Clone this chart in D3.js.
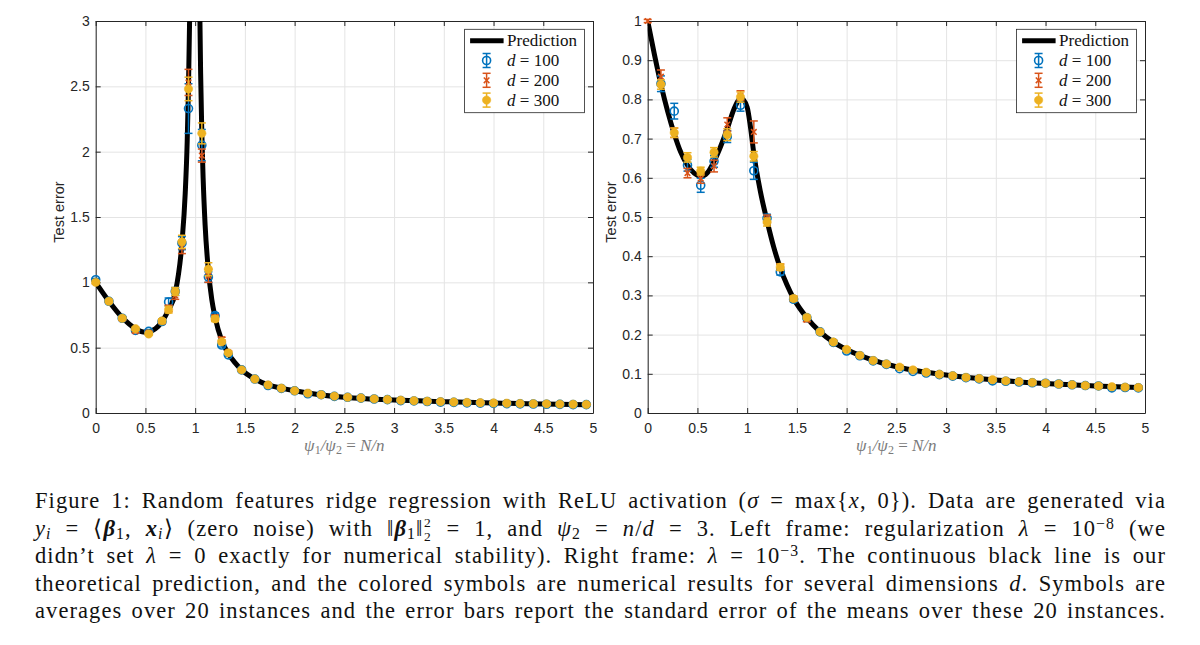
<!DOCTYPE html>
<html><head><meta charset="utf-8">
<script src="https://cdn.jsdelivr.net/npm/d3@7"></script>
<style>
html,body{margin:0;padding:0;background:#fff;}
#wrap{position:relative;width:1200px;height:645px;overflow:hidden;background:#fff;}
svg{position:absolute;left:0;top:0;}
#cap{position:absolute;left:35px;top:487px;width:1131px;font-family:"Liberation Serif","Times New Roman",serif;font-size:22.5px;line-height:27.5px;color:#111;}
#cap div{text-align:justify;text-align-last:justify;height:27.5px;}
#cap sub,#cap sup{font-size:0.7em;line-height:0;}
#cap sub{vertical-align:-0.22em;}
#cap sup{vertical-align:0.45em;}
#cap .ss{display:inline-block;position:relative;width:0.4em;height:0;}
#cap .ss span{position:absolute;left:0.05em;font-size:13.5px;line-height:1;}
#cap .ss .a{top:-19.8px;}
#cap .ss .b{top:-6px;}
</style></head>
<body>
<div id="wrap">
<svg id="chart" width="1200" height="645"></svg>
<div id="cap">
<div>Figure 1: Random features ridge regression with ReLU activation (<i>σ</i> = max{<i>x</i>, 0}). Data are generated via</div>
<div><i>y</i><sub><i>i</i></sub> = ⟨<b><i>β</i></b><sub>1</sub>, <b><i>x</i></b><sub><i>i</i></sub>⟩ (zero noise) with ‖<b><i>β</i></b><sub>1</sub>‖<span class="ss"><span class="a">2</span><span class="b">2</span></span> = 1, and <i>ψ</i><sub>2</sub> = <i>n</i>/<i>d</i> = 3. Left frame: regularization <i>λ</i> = 10<sup>−8</sup> (we</div>
<div>didn’t set <i>λ</i> = 0 exactly for numerical stability). Right frame: <i>λ</i> = 10<sup>−3</sup>. The continuous black line is our</div>
<div>theoretical prediction, and the colored symbols are numerical results for several dimensions <i>d</i>. Symbols are</div>
<div>averages over 20 instances and the error bars report the standard error of the means over these 20 instances.</div>
</div>
</div>
<script>
// ---------- tick labels ----------
const xTickVals = [0,0.5,1,1.5,2,2.5,3,3.5,4,4.5,5];
const xTickLabels = ["0","0.5","1","1.5","2","2.5","3","3.5","4","4.5","5"];
const yTickValsL = [0,0.5,1,1.5,2,2.5,3];
const yTickLabelsL = ["0","0.5","1","1.5","2","2.5","3"];
const yTickValsR = [0,0.1,0.2,0.3,0.4,0.5,0.6,0.7,0.8,0.9,1];
const yTickLabelsR = ["0","0.1","0.2","0.3","0.4","0.5","0.6","0.7","0.8","0.9","1"];
const seriesDims = ["100","200","300"];
const seriesColors = ["#0072BD","#D95319","#EDB120"];

// ---------- left frame (lambda = 1e-8) ----------
const xLeft = [0,0.133,0.267,0.4,0.533,0.667,0.733,0.8,0.867,0.933,1.067,1.133,1.2,1.267,1.333,1.467,1.6,1.733,1.867,2,2.133,2.267,2.4,2.533,2.667,2.8,2.933,3.067,3.2,3.333,3.467,3.6,3.733,3.867,4,4.133,4.267,4.4,4.533,4.667,4.8,4.933];
const left100 = [1.02,0.855,0.725,0.632,0.625,0.70,0.85,0.93,1.30,2.33,2.05,1.04,0.745,0.52,0.445,0.33,0.26,0.21,0.188,0.17,0.147,0.14,0.127,0.12,0.114,0.107,0.102,0.095,0.092,0.088,0.083,0.081,0.077,0.075,0.073,0.071,0.07,0.069,0.067,0.066,0.064,0.064];
const left200 = [1.0,0.855,0.72,0.625,0.615,0.70,0.80,0.90,1.27,2.53,1.97,1.05,0.73,0.565,0.465,0.33,0.26,0.215,0.19,0.17,0.152,0.14,0.129,0.121,0.114,0.108,0.103,0.098,0.094,0.09,0.087,0.084,0.081,0.079,0.077,0.075,0.073,0.071,0.07,0.068,0.067,0.065];
const left300 = [1.0,0.855,0.725,0.645,0.605,0.705,0.79,0.93,1.31,2.48,2.14,1.10,0.72,0.545,0.46,0.33,0.26,0.215,0.19,0.17,0.152,0.14,0.129,0.121,0.115,0.108,0.103,0.098,0.094,0.09,0.087,0.084,0.081,0.079,0.077,0.075,0.073,0.071,0.07,0.068,0.067,0.065];
const errLeft100 = [0.01,0.01,0.01,0.01,0.01,0.015,0.03,0.03,0.05,0.19,0.12,0.04,0.02,0.015,0.01,0.005,0.005,0.005,0.005,0.005,0.005,0.005,0.005,0.005,0.005,0.005,0.005,0.005,0.005,0.005,0.005,0.005,0.005,0.005,0.005,0.005,0.005,0.005,0.005,0.005,0.005,0.005];
const errLeft200 = [0.01,0.01,0.01,0.01,0.01,0.015,0.025,0.03,0.05,0.10,0.05,0.05,0.02,0.015,0.01,0.005,0.005,0.005,0.005,0.005,0.005,0.005,0.005,0.005,0.005,0.005,0.005,0.005,0.005,0.005,0.005,0.005,0.005,0.005,0.005,0.005,0.005,0.005,0.005,0.005,0.005,0.005];
const errLeft300 = [0.01,0.01,0.01,0.01,0.01,0.015,0.025,0.03,0.05,0.09,0.08,0.05,0.02,0.015,0.01,0.005,0.005,0.005,0.005,0.005,0.005,0.005,0.005,0.005,0.005,0.005,0.005,0.005,0.005,0.005,0.005,0.005,0.005,0.005,0.005,0.005,0.005,0.005,0.005,0.005,0.005,0.005];
const predLeftX = [0,0.133,0.267,0.4,0.5,0.6,0.667,0.733,0.8,0.867,0.9,0.92,0.933,0.944,0.955,0.965,1.0,1.038,1.048,1.055,1.067,1.08,1.1,1.133,1.167,1.2,1.267,1.333,1.4,1.467,1.6,1.733,1.867,2,2.25,2.5,2.75,3,3.5,4,4.5,4.933];
const predLeftY = [1.0,0.855,0.73,0.645,0.618,0.645,0.70,0.79,0.92,1.30,1.68,2.08,2.5,3.0,3.7,4.5,null,3.8,3.0,2.6,2.14,1.80,1.44,1.09,0.87,0.735,0.555,0.455,0.385,0.33,0.26,0.215,0.19,0.17,0.14,0.12,0.108,0.099,0.087,0.076,0.069,0.064];

// ---------- right frame (lambda = 1e-3) ----------
const xRight = [0,0.133,0.267,0.4,0.533,0.667,0.8,0.933,1.067,1.2,1.333,1.467,1.6,1.733,1.867,2,2.133,2.267,2.4,2.533,2.667,2.8,2.933,3.067,3.2,3.333,3.467,3.6,3.733,3.867,4,4.133,4.267,4.4,4.533,4.667,4.8,4.933];
const right100 = [null,0.84,0.77,0.632,0.581,0.642,0.705,0.785,0.618,0.497,0.36,0.29,0.243,0.207,0.18,0.158,0.146,0.133,0.124,0.113,0.106,0.102,0.098,0.094,0.09,0.087,0.082,0.081,0.079,0.077,0.076,0.074,0.072,0.07,0.069,0.064,0.065,0.064];
const right200 = [1.0,0.858,0.715,0.612,0.598,0.63,0.736,0.81,0.717,0.495,0.372,0.292,0.238,0.207,0.181,0.162,0.147,0.134,0.125,0.117,0.11,0.104,0.099,0.095,0.091,0.088,0.085,0.082,0.08,0.078,0.076,0.074,0.072,0.07,0.069,0.067,0.066,0.065];
const right300 = [null,0.838,0.715,0.652,0.617,0.665,0.71,0.806,0.655,0.487,0.372,0.292,0.244,0.207,0.181,0.162,0.147,0.134,0.125,0.117,0.11,0.104,0.099,0.095,0.091,0.088,0.085,0.082,0.08,0.078,0.076,0.074,0.072,0.07,0.069,0.067,0.066,0.065];
const errRight100 = [0,0.02,0.02,0.015,0.018,0.015,0.015,0.015,0.022,0.01,0.008,0.006,0.005,0.004,0.004,0.004,0.004,0.004,0.004,0.004,0.004,0.004,0.004,0.004,0.004,0.004,0.004,0.004,0.004,0.004,0.004,0.004,0.004,0.004,0.004,0.004,0.004,0.004];
const errRight200 = [0.004,0.017,0.012,0.012,0.012,0.015,0.017,0.012,0.028,0.01,0.008,0.006,0.005,0.004,0.004,0.004,0.004,0.004,0.004,0.004,0.004,0.004,0.004,0.004,0.004,0.004,0.004,0.004,0.004,0.004,0.004,0.004,0.004,0.004,0.004,0.004,0.004,0.004];
const errRight300 = [0,0.012,0.012,0.012,0.01,0.012,0.015,0.013,0.012,0.01,0.008,0.006,0.005,0.004,0.004,0.004,0.004,0.004,0.004,0.004,0.004,0.004,0.004,0.004,0.004,0.004,0.004,0.004,0.004,0.004,0.004,0.004,0.004,0.004,0.004,0.004,0.004,0.004];
const predRightX = [0,0.067,0.133,0.2,0.267,0.333,0.4,0.467,0.533,0.6,0.667,0.733,0.8,0.867,0.94,1.0,1.033,1.067,1.133,1.2,1.267,1.333,1.4,1.467,1.6,1.733,1.867,2,2.25,2.5,2.75,3,3.5,4,4.5,4.933];
const predRightY = [1.0,0.915,0.838,0.77,0.712,0.665,0.632,0.612,0.604,0.613,0.642,0.68,0.725,0.775,0.803,0.78,0.73,0.662,0.565,0.49,0.423,0.37,0.327,0.292,0.243,0.207,0.181,0.162,0.136,0.118,0.106,0.097,0.084,0.075,0.069,0.065];

// ---------- caption letter spacing (so the justified lines look like the original typesetting) ----------
(function(){
  const divs = Array.from(document.querySelectorAll('#cap div'));
  let best = Infinity;
  divs.forEach(d=>{
    d.style.display='inline-block'; d.style.whiteSpace='nowrap'; d.style.textAlignLast='auto';
    const w = d.getBoundingClientRect().width;
    const txt = d.textContent.replace(/\s+/g,' ').trim();
    const n = txt.length, s = (txt.match(/ /g)||[]).length;
    const ls = (1131 - s*2.5 - w)/n;
    best = Math.min(best, ls);
    d.style.display=''; d.style.whiteSpace=''; d.style.textAlignLast='';
  });
  best = Math.max(0, Math.min(best, 2));
  document.getElementById('cap').style.letterSpacing = best.toFixed(2)+'px';
})();

// ---------- drawing ----------
const svg = d3.select("#chart");
const TOP = 21, BOTTOM = 413;
const AX = "#262626";
const SANS = "'Liberation Sans', Arial, Helvetica, sans-serif";
const SERIF = "'Liberation Serif', 'Times New Roman', serif";

function panel(cfg, id){
  const x = d3.scaleLinear().domain([0,5]).range([cfg.left, cfg.right]);
  const y = d3.scaleLinear().domain(cfg.yDomain).range([BOTTOM, TOP]);
  const g = svg.append("g");
  const W = cfg.right - cfg.left, H = BOTTOM - TOP;

  // grid
  g.append("g").attr("transform",`translate(0,${BOTTOM})`)
    .call(d3.axisBottom(x).tickValues(xTickVals).tickSize(-H).tickFormat(""))
    .call(s=>{s.select(".domain").remove(); s.selectAll("line").attr("stroke","#e4e4e4").attr("stroke-width",1);});
  g.append("g").attr("transform",`translate(${cfg.left},0)`)
    .call(d3.axisLeft(y).tickValues(cfg.yTicks).tickSize(-W).tickFormat(""))
    .call(s=>{s.select(".domain").remove(); s.selectAll("line").attr("stroke","#e4e4e4").attr("stroke-width",1);});

  // axes (ticks inward, box on)
  const styleAx = s=>{s.select(".domain").attr("stroke",AX).attr("stroke-width",1);
    s.selectAll(".tick line").attr("stroke",AX).attr("stroke-width",1);
    s.selectAll("text").attr("fill",AX).attr("font-family",SANS).attr("font-size",14);};
  g.append("g").attr("transform",`translate(0,${BOTTOM})`)
    .call(d3.axisBottom(x).tickValues(xTickVals).tickFormat((d,i)=>xTickLabels[i]).tickSizeInner(-5).tickSizeOuter(0).tickPadding(10)).call(styleAx);
  g.append("g").attr("transform",`translate(0,${TOP})`)
    .call(d3.axisTop(x).tickValues(xTickVals).tickFormat(()=>"").tickSizeInner(-5).tickSizeOuter(0)).call(styleAx);
  g.append("g").attr("transform",`translate(${cfg.left},0)`)
    .call(d3.axisLeft(y).tickValues(cfg.yTicks).tickFormat((d,i)=>cfg.yLabels[i]).tickSizeInner(-5).tickSizeOuter(0).tickPadding(6)).call(styleAx);
  g.append("g").attr("transform",`translate(${cfg.right},0)`)
    .call(d3.axisRight(y).tickValues(cfg.yTicks).tickFormat(()=>"").tickSizeInner(-5).tickSizeOuter(0)).call(styleAx);

  // axis labels
  g.append("text").attr("transform",`translate(${cfg.left-37},212) rotate(-90)`)
    .attr("text-anchor","middle").attr("dy","0.35em").attr("font-family",SANS).attr("font-size",14.5).attr("fill",AX)
    .text("Test error");
  const xl = g.append("text").attr("x",(cfg.left+cfg.right)/2).attr("y",451).attr("text-anchor","middle")
    .attr("font-family",SERIF).attr("font-size",17).attr("fill","#7a7a7a");
  xl.append("tspan").attr("font-style","italic").text("ψ");
  xl.append("tspan").attr("font-size",12).attr("dy",3).text("1");
  xl.append("tspan").attr("dy",-3).attr("font-style","italic").text("/ψ");
  xl.append("tspan").attr("font-size",12).attr("dy",3).text("2");
  xl.append("tspan").attr("dy",-3).text(" = ");
  xl.append("tspan").attr("font-style","italic").text("N/n");

  // prediction line
  svg.append("clipPath").attr("id","clip"+id).append("rect")
    .attr("x",cfg.left).attr("y",TOP).attr("width",W).attr("height",H);
  const pts = cfg.predX.map((v,i)=>[v,cfg.predY[i]]);
  g.append("path").datum(pts).attr("clip-path",`url(#clip${id})`)
    .attr("d", d3.line().defined(d=>d[1]!=null).x(d=>x(d[0])).y(d=>y(d[1])).curve(d3.curveMonotoneX))
    .attr("fill","none").attr("stroke","#000").attr("stroke-width",5).attr("stroke-linejoin","round");

  // error bar series
  cfg.series.forEach((vals,si)=>{
    const col = seriesColors[si];
    const data = vals.map((v,i)=>({x:cfg.xs[i], v, e:cfg.errs[si][i]})).filter(d=>d.v!=null);
    const sg = g.append("g");
    data.forEach(d=>{
      const px = x(d.x), lo = y(d.v-d.e), hi = y(d.v+d.e);
      sg.append("line").attr("x1",px).attr("x2",px).attr("y1",lo).attr("y2",hi).attr("stroke",col).attr("stroke-width",1.5);
      [lo,hi].forEach(yy=>sg.append("line").attr("x1",px-4).attr("x2",px+4).attr("y1",yy).attr("y2",yy).attr("stroke",col).attr("stroke-width",1.5));
      drawMarker(sg, si, px, y(d.v));
    });
  });

  // legend
  const lx = cfg.right - 128.4, ly = 29.3;
  const lg = g.append("g");
  lg.append("rect").attr("x",lx).attr("y",ly).attr("width",119.8).attr("height",83.4)
    .attr("fill","#fff").attr("stroke",AX).attr("stroke-width",0.8);
  const rowY = i => TOP + 19.7 + i*19.8;
  lg.append("line").attr("x1",lx+5.5).attr("x2",lx+39).attr("y1",rowY(0)).attr("y2",rowY(0)).attr("stroke","#000").attr("stroke-width",5);
  lg.append("text").attr("x",lx+42.5).attr("y",rowY(0)).attr("dy","0.33em").attr("font-family",SERIF).attr("font-size",17).attr("fill","#111").text("Prediction");
  seriesDims.forEach((dv,si)=>{
    const yy = rowY(si+1), px = lx+22, col = seriesColors[si];
    lg.append("line").attr("x1",px).attr("x2",px).attr("y1",yy-7).attr("y2",yy+7).attr("stroke",col).attr("stroke-width",1.5);
    [yy-7,yy+7].forEach(t=>lg.append("line").attr("x1",px-4).attr("x2",px+4).attr("y1",t).attr("y2",t).attr("stroke",col).attr("stroke-width",1.5));
    drawMarker(lg, si, px, yy);
    const t = lg.append("text").attr("x",lx+42.5).attr("y",yy).attr("dy","0.33em").attr("font-family",SERIF).attr("font-size",17).attr("fill","#111");
    t.append("tspan").attr("font-style","italic").text("d");
    t.append("tspan").text(" = " + dv);
  });
}

function drawMarker(sg, si, px, py){
  const col = seriesColors[si];
  if (si===0){
    sg.append("circle").attr("cx",px).attr("cy",py).attr("r",4).attr("fill","none").attr("stroke",col).attr("stroke-width",1.6);
  } else if (si===1){
    sg.append("path").attr("d",`M${px-2.8},${py-2.8}L${px+2.8},${py+2.8}M${px-2.8},${py+2.8}L${px+2.8},${py-2.8}`)
      .attr("stroke",col).attr("stroke-width",1.5).attr("fill","none");
  } else {
    sg.append("circle").attr("cx",px).attr("cy",py).attr("r",4.2).attr("fill",col).attr("stroke",col).attr("stroke-width",0.5);
  }
}

panel({left:95.7, right:593, yDomain:[0,3], yTicks:yTickValsL, yLabels:yTickLabelsL,
  xs:xLeft, series:[left100,left200,left300], errs:[errLeft100,errLeft200,errLeft300],
  predX:predLeftX, predY:predLeftY}, "L");
panel({left:647.7, right:1145, yDomain:[0,1], yTicks:yTickValsR, yLabels:yTickLabelsR,
  xs:xRight, series:[right100,right200,right300], errs:[errRight100,errRight200,errRight300],
  predX:predRightX, predY:predRightY}, "R");
</script>
</body></html>
